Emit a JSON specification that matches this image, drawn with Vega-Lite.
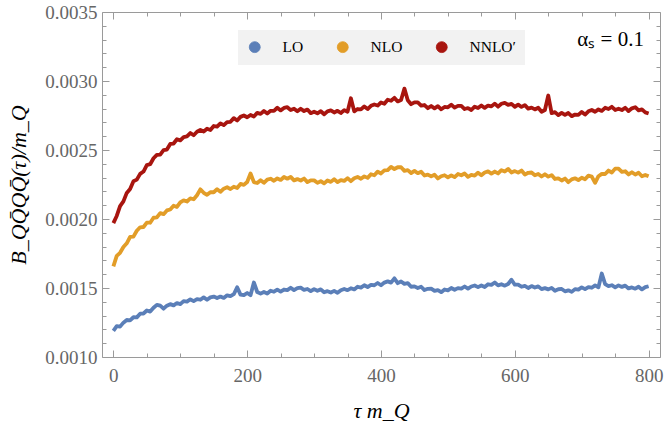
{
  "$schema": "https://vega.github.io/schema/vega-lite/v6.json",
  "width": 558,
  "height": 345,
  "autosize": {"type": "none"},
  "padding": {"left": 102, "top": 12, "right": 4, "bottom": 74},
  "background": "white",
  "config": {
    "font": "Liberation Serif",
    "view": {"stroke": null},
    "axis": {
      "grid": false,
      "domainColor": "#9a9a9a",
      "tickColor": "#9a9a9a",
      "labelColor": "#666666",
      "labelFont": "Liberation Serif",
      "labelFontSize": 19,
      "titleFont": "Liberation Serif",
      "titleFontSize": 22,
      "titleFontStyle": "italic",
      "titleFontWeight": "normal",
      "titleColor": "#000000"
    }
  },
  "data": {
    "values": [
      {"tau": 0, "order": "LO", "B": 0.001190}, {"tau": 5, "order": "LO", "B": 0.001224}, {"tau": 10, "order": "LO", "B": 0.001220}, {"tau": 15, "order": "LO", "B": 0.001249}, {"tau": 20, "order": "LO", "B": 0.001268}, {"tau": 25, "order": "LO", "B": 0.001266}, {"tau": 30, "order": "LO", "B": 0.001288}, {"tau": 35, "order": "LO", "B": 0.001287}, {"tau": 40, "order": "LO", "B": 0.001314}, {"tau": 45, "order": "LO", "B": 0.001315},
      {"tau": 50, "order": "LO", "B": 0.001337}, {"tau": 55, "order": "LO", "B": 0.001329}, {"tau": 60, "order": "LO", "B": 0.001357}, {"tau": 65, "order": "LO", "B": 0.001378}, {"tau": 70, "order": "LO", "B": 0.001372}, {"tau": 75, "order": "LO", "B": 0.001350}, {"tau": 80, "order": "LO", "B": 0.001372}, {"tau": 85, "order": "LO", "B": 0.001383}, {"tau": 90, "order": "LO", "B": 0.001374}, {"tau": 95, "order": "LO", "B": 0.001391},
      {"tau": 100, "order": "LO", "B": 0.001383}, {"tau": 105, "order": "LO", "B": 0.001405}, {"tau": 110, "order": "LO", "B": 0.001401}, {"tau": 115, "order": "LO", "B": 0.001418}, {"tau": 120, "order": "LO", "B": 0.001405}, {"tau": 125, "order": "LO", "B": 0.001419}, {"tau": 130, "order": "LO", "B": 0.001415}, {"tau": 135, "order": "LO", "B": 0.001432}, {"tau": 140, "order": "LO", "B": 0.001415}, {"tau": 145, "order": "LO", "B": 0.001432},
      {"tau": 150, "order": "LO", "B": 0.001438}, {"tau": 155, "order": "LO", "B": 0.001427}, {"tau": 160, "order": "LO", "B": 0.001438}, {"tau": 165, "order": "LO", "B": 0.001428}, {"tau": 170, "order": "LO", "B": 0.001447}, {"tau": 175, "order": "LO", "B": 0.001441}, {"tau": 180, "order": "LO", "B": 0.001455}, {"tau": 185, "order": "LO", "B": 0.001505}, {"tau": 190, "order": "LO", "B": 0.001452}, {"tau": 195, "order": "LO", "B": 0.001448},
      {"tau": 200, "order": "LO", "B": 0.001464}, {"tau": 205, "order": "LO", "B": 0.001448}, {"tau": 210, "order": "LO", "B": 0.001540}, {"tau": 215, "order": "LO", "B": 0.001471}, {"tau": 220, "order": "LO", "B": 0.001459}, {"tau": 225, "order": "LO", "B": 0.001471}, {"tau": 230, "order": "LO", "B": 0.001460}, {"tau": 235, "order": "LO", "B": 0.001480}, {"tau": 240, "order": "LO", "B": 0.001473}, {"tau": 245, "order": "LO", "B": 0.001488},
      {"tau": 250, "order": "LO", "B": 0.001474}, {"tau": 255, "order": "LO", "B": 0.001489}, {"tau": 260, "order": "LO", "B": 0.001485}, {"tau": 265, "order": "LO", "B": 0.001502}, {"tau": 270, "order": "LO", "B": 0.001485}, {"tau": 275, "order": "LO", "B": 0.001499}, {"tau": 280, "order": "LO", "B": 0.001503}, {"tau": 285, "order": "LO", "B": 0.001486}, {"tau": 290, "order": "LO", "B": 0.001493}, {"tau": 295, "order": "LO", "B": 0.001477},
      {"tau": 300, "order": "LO", "B": 0.001492}, {"tau": 305, "order": "LO", "B": 0.001480}, {"tau": 310, "order": "LO", "B": 0.001490}, {"tau": 315, "order": "LO", "B": 0.001469}, {"tau": 320, "order": "LO", "B": 0.001477}, {"tau": 325, "order": "LO", "B": 0.001467}, {"tau": 330, "order": "LO", "B": 0.001479}, {"tau": 335, "order": "LO", "B": 0.001465}, {"tau": 340, "order": "LO", "B": 0.001484}, {"tau": 345, "order": "LO", "B": 0.001493},
      {"tau": 350, "order": "LO", "B": 0.001484}, {"tau": 355, "order": "LO", "B": 0.001498}, {"tau": 360, "order": "LO", "B": 0.001490}, {"tau": 365, "order": "LO", "B": 0.001509}, {"tau": 370, "order": "LO", "B": 0.001503}, {"tau": 375, "order": "LO", "B": 0.001520}, {"tau": 380, "order": "LO", "B": 0.001507}, {"tau": 385, "order": "LO", "B": 0.001522}, {"tau": 390, "order": "LO", "B": 0.001520}, {"tau": 395, "order": "LO", "B": 0.001536},
      {"tau": 400, "order": "LO", "B": 0.001520}, {"tau": 405, "order": "LO", "B": 0.001539}, {"tau": 410, "order": "LO", "B": 0.001548}, {"tau": 415, "order": "LO", "B": 0.001539}, {"tau": 420, "order": "LO", "B": 0.001570}, {"tau": 425, "order": "LO", "B": 0.001535}, {"tau": 430, "order": "LO", "B": 0.001547}, {"tau": 435, "order": "LO", "B": 0.001530}, {"tau": 440, "order": "LO", "B": 0.001535}, {"tau": 445, "order": "LO", "B": 0.001509},
      {"tau": 450, "order": "LO", "B": 0.001512}, {"tau": 455, "order": "LO", "B": 0.001500}, {"tau": 460, "order": "LO", "B": 0.001509}, {"tau": 465, "order": "LO", "B": 0.001485}, {"tau": 470, "order": "LO", "B": 0.001494}, {"tau": 475, "order": "LO", "B": 0.001495}, {"tau": 480, "order": "LO", "B": 0.001479}, {"tau": 485, "order": "LO", "B": 0.001485}, {"tau": 490, "order": "LO", "B": 0.001470}, {"tau": 495, "order": "LO", "B": 0.001489},
      {"tau": 500, "order": "LO", "B": 0.001483}, {"tau": 505, "order": "LO", "B": 0.001500}, {"tau": 510, "order": "LO", "B": 0.001487}, {"tau": 515, "order": "LO", "B": 0.001499}, {"tau": 520, "order": "LO", "B": 0.001495}, {"tau": 525, "order": "LO", "B": 0.001511}, {"tau": 530, "order": "LO", "B": 0.001495}, {"tau": 535, "order": "LO", "B": 0.001511}, {"tau": 540, "order": "LO", "B": 0.001518}, {"tau": 545, "order": "LO", "B": 0.001506},
      {"tau": 550, "order": "LO", "B": 0.001518}, {"tau": 555, "order": "LO", "B": 0.001507}, {"tau": 560, "order": "LO", "B": 0.001527}, {"tau": 565, "order": "LO", "B": 0.001523}, {"tau": 570, "order": "LO", "B": 0.001540}, {"tau": 575, "order": "LO", "B": 0.001519}, {"tau": 580, "order": "LO", "B": 0.001527}, {"tau": 585, "order": "LO", "B": 0.001517}, {"tau": 590, "order": "LO", "B": 0.001529}, {"tau": 595, "order": "LO", "B": 0.001560},
      {"tau": 600, "order": "LO", "B": 0.001524}, {"tau": 605, "order": "LO", "B": 0.001525}, {"tau": 610, "order": "LO", "B": 0.001509}, {"tau": 615, "order": "LO", "B": 0.001515}, {"tau": 620, "order": "LO", "B": 0.001500}, {"tau": 625, "order": "LO", "B": 0.001514}, {"tau": 630, "order": "LO", "B": 0.001503}, {"tau": 635, "order": "LO", "B": 0.001512}, {"tau": 640, "order": "LO", "B": 0.001492}, {"tau": 645, "order": "LO", "B": 0.001499},
      {"tau": 650, "order": "LO", "B": 0.001490}, {"tau": 655, "order": "LO", "B": 0.001501}, {"tau": 660, "order": "LO", "B": 0.001480}, {"tau": 665, "order": "LO", "B": 0.001491}, {"tau": 670, "order": "LO", "B": 0.001493}, {"tau": 675, "order": "LO", "B": 0.001476}, {"tau": 680, "order": "LO", "B": 0.001483}, {"tau": 685, "order": "LO", "B": 0.001472}, {"tau": 690, "order": "LO", "B": 0.001492}, {"tau": 695, "order": "LO", "B": 0.001488},
      {"tau": 700, "order": "LO", "B": 0.001505}, {"tau": 705, "order": "LO", "B": 0.001492}, {"tau": 710, "order": "LO", "B": 0.001507}, {"tau": 715, "order": "LO", "B": 0.001502}, {"tau": 720, "order": "LO", "B": 0.001519}, {"tau": 725, "order": "LO", "B": 0.001505}, {"tau": 730, "order": "LO", "B": 0.001605}, {"tau": 735, "order": "LO", "B": 0.001528}, {"tau": 740, "order": "LO", "B": 0.001514}, {"tau": 745, "order": "LO", "B": 0.001520},
      {"tau": 750, "order": "LO", "B": 0.001505}, {"tau": 755, "order": "LO", "B": 0.001519}, {"tau": 760, "order": "LO", "B": 0.001508}, {"tau": 765, "order": "LO", "B": 0.001517}, {"tau": 770, "order": "LO", "B": 0.001497}, {"tau": 775, "order": "LO", "B": 0.001504}, {"tau": 780, "order": "LO", "B": 0.001495}, {"tau": 785, "order": "LO", "B": 0.001509}, {"tau": 790, "order": "LO", "B": 0.001490}, {"tau": 795, "order": "LO", "B": 0.001506},
      {"tau": 800, "order": "LO", "B": 0.001513},

      {"tau": 0, "order": "NLO", "B": 0.001657}, {"tau": 5, "order": "NLO", "B": 0.001733}, {"tau": 10, "order": "NLO", "B": 0.001755}, {"tau": 15, "order": "NLO", "B": 0.001797}, {"tau": 20, "order": "NLO", "B": 0.001824}, {"tau": 25, "order": "NLO", "B": 0.001871}, {"tau": 30, "order": "NLO", "B": 0.001872}, {"tau": 35, "order": "NLO", "B": 0.001915}, {"tau": 40, "order": "NLO", "B": 0.001940}, {"tau": 45, "order": "NLO", "B": 0.001942},
      {"tau": 50, "order": "NLO", "B": 0.001974}, {"tau": 55, "order": "NLO", "B": 0.001973}, {"tau": 60, "order": "NLO", "B": 0.002009}, {"tau": 65, "order": "NLO", "B": 0.002012}, {"tau": 70, "order": "NLO", "B": 0.002043}, {"tau": 75, "order": "NLO", "B": 0.002035}, {"tau": 80, "order": "NLO", "B": 0.002062}, {"tau": 85, "order": "NLO", "B": 0.002069}, {"tau": 90, "order": "NLO", "B": 0.002096}, {"tau": 95, "order": "NLO", "B": 0.002087},
      {"tau": 100, "order": "NLO", "B": 0.002120}, {"tau": 105, "order": "NLO", "B": 0.002135}, {"tau": 110, "order": "NLO", "B": 0.002127}, {"tau": 115, "order": "NLO", "B": 0.002149}, {"tau": 120, "order": "NLO", "B": 0.002143}, {"tau": 125, "order": "NLO", "B": 0.002172}, {"tau": 130, "order": "NLO", "B": 0.002215}, {"tau": 135, "order": "NLO", "B": 0.002190}, {"tau": 140, "order": "NLO", "B": 0.002175}, {"tau": 145, "order": "NLO", "B": 0.002194},
      {"tau": 150, "order": "NLO", "B": 0.002194}, {"tau": 155, "order": "NLO", "B": 0.002216}, {"tau": 160, "order": "NLO", "B": 0.002197}, {"tau": 165, "order": "NLO", "B": 0.002220}, {"tau": 170, "order": "NLO", "B": 0.002230}, {"tau": 175, "order": "NLO", "B": 0.002217}, {"tau": 180, "order": "NLO", "B": 0.002234}, {"tau": 185, "order": "NLO", "B": 0.002225}, {"tau": 190, "order": "NLO", "B": 0.002254}, {"tau": 195, "order": "NLO", "B": 0.002247},
      {"tau": 200, "order": "NLO", "B": 0.002268}, {"tau": 205, "order": "NLO", "B": 0.002330}, {"tau": 210, "order": "NLO", "B": 0.002267}, {"tau": 215, "order": "NLO", "B": 0.002261}, {"tau": 220, "order": "NLO", "B": 0.002281}, {"tau": 225, "order": "NLO", "B": 0.002262}, {"tau": 230, "order": "NLO", "B": 0.002285}, {"tau": 235, "order": "NLO", "B": 0.002292}, {"tau": 240, "order": "NLO", "B": 0.002277}, {"tau": 245, "order": "NLO", "B": 0.002294},
      {"tau": 250, "order": "NLO", "B": 0.002283}, {"tau": 255, "order": "NLO", "B": 0.002304}, {"tau": 260, "order": "NLO", "B": 0.002292}, {"tau": 265, "order": "NLO", "B": 0.002305}, {"tau": 270, "order": "NLO", "B": 0.002280}, {"tau": 275, "order": "NLO", "B": 0.002289}, {"tau": 280, "order": "NLO", "B": 0.002279}, {"tau": 285, "order": "NLO", "B": 0.002293}, {"tau": 290, "order": "NLO", "B": 0.002267}, {"tau": 295, "order": "NLO", "B": 0.002280},
      {"tau": 300, "order": "NLO", "B": 0.002280}, {"tau": 305, "order": "NLO", "B": 0.002262}, {"tau": 310, "order": "NLO", "B": 0.002274}, {"tau": 315, "order": "NLO", "B": 0.002258}, {"tau": 320, "order": "NLO", "B": 0.002279}, {"tau": 325, "order": "NLO", "B": 0.002269}, {"tau": 330, "order": "NLO", "B": 0.002288}, {"tau": 335, "order": "NLO", "B": 0.002267}, {"tau": 340, "order": "NLO", "B": 0.002282}, {"tau": 345, "order": "NLO", "B": 0.002276},
      {"tau": 350, "order": "NLO", "B": 0.002296}, {"tau": 355, "order": "NLO", "B": 0.002274}, {"tau": 360, "order": "NLO", "B": 0.002295}, {"tau": 365, "order": "NLO", "B": 0.002305}, {"tau": 370, "order": "NLO", "B": 0.002292}, {"tau": 375, "order": "NLO", "B": 0.002309}, {"tau": 380, "order": "NLO", "B": 0.002298}, {"tau": 385, "order": "NLO", "B": 0.002324}, {"tau": 390, "order": "NLO", "B": 0.002317}, {"tau": 395, "order": "NLO", "B": 0.002343},
      {"tau": 400, "order": "NLO", "B": 0.002330}, {"tau": 405, "order": "NLO", "B": 0.002352}, {"tau": 410, "order": "NLO", "B": 0.002354}, {"tau": 415, "order": "NLO", "B": 0.002378}, {"tau": 420, "order": "NLO", "B": 0.002362}, {"tau": 425, "order": "NLO", "B": 0.002375}, {"tau": 430, "order": "NLO", "B": 0.002375}, {"tau": 435, "order": "NLO", "B": 0.002349}, {"tau": 440, "order": "NLO", "B": 0.002354}, {"tau": 445, "order": "NLO", "B": 0.002333},
      {"tau": 450, "order": "NLO", "B": 0.002349}, {"tau": 455, "order": "NLO", "B": 0.002332}, {"tau": 460, "order": "NLO", "B": 0.002343}, {"tau": 465, "order": "NLO", "B": 0.002315}, {"tau": 470, "order": "NLO", "B": 0.002322}, {"tau": 475, "order": "NLO", "B": 0.002309}, {"tau": 480, "order": "NLO", "B": 0.002321}, {"tau": 485, "order": "NLO", "B": 0.002294}, {"tau": 490, "order": "NLO", "B": 0.002310}, {"tau": 495, "order": "NLO", "B": 0.002317},
      {"tau": 500, "order": "NLO", "B": 0.002302}, {"tau": 505, "order": "NLO", "B": 0.002316}, {"tau": 510, "order": "NLO", "B": 0.002303}, {"tau": 515, "order": "NLO", "B": 0.002326}, {"tau": 520, "order": "NLO", "B": 0.002317}, {"tau": 525, "order": "NLO", "B": 0.002330}, {"tau": 530, "order": "NLO", "B": 0.002305}, {"tau": 535, "order": "NLO", "B": 0.002319}, {"tau": 540, "order": "NLO", "B": 0.002314}, {"tau": 545, "order": "NLO", "B": 0.002336},
      {"tau": 550, "order": "NLO", "B": 0.002317}, {"tau": 555, "order": "NLO", "B": 0.002337}, {"tau": 560, "order": "NLO", "B": 0.002345}, {"tau": 565, "order": "NLO", "B": 0.002329}, {"tau": 570, "order": "NLO", "B": 0.002344}, {"tau": 575, "order": "NLO", "B": 0.002330}, {"tau": 580, "order": "NLO", "B": 0.002354}, {"tau": 585, "order": "NLO", "B": 0.002344}, {"tau": 590, "order": "NLO", "B": 0.002363}, {"tau": 595, "order": "NLO", "B": 0.002337},
      {"tau": 600, "order": "NLO", "B": 0.002347}, {"tau": 605, "order": "NLO", "B": 0.002336}, {"tau": 610, "order": "NLO", "B": 0.002351}, {"tau": 615, "order": "NLO", "B": 0.002322}, {"tau": 620, "order": "NLO", "B": 0.002335}, {"tau": 625, "order": "NLO", "B": 0.002337}, {"tau": 630, "order": "NLO", "B": 0.002317}, {"tau": 635, "order": "NLO", "B": 0.002326}, {"tau": 640, "order": "NLO", "B": 0.002308}, {"tau": 645, "order": "NLO", "B": 0.002324},
      {"tau": 650, "order": "NLO", "B": 0.002307}, {"tau": 655, "order": "NLO", "B": 0.002318}, {"tau": 660, "order": "NLO", "B": 0.002290}, {"tau": 665, "order": "NLO", "B": 0.002294}, {"tau": 670, "order": "NLO", "B": 0.002279}, {"tau": 675, "order": "NLO", "B": 0.002293}, {"tau": 680, "order": "NLO", "B": 0.002267}, {"tau": 685, "order": "NLO", "B": 0.002287}, {"tau": 690, "order": "NLO", "B": 0.002295}, {"tau": 695, "order": "NLO", "B": 0.002282},
      {"tau": 700, "order": "NLO", "B": 0.002299}, {"tau": 705, "order": "NLO", "B": 0.002288}, {"tau": 710, "order": "NLO", "B": 0.002314}, {"tau": 715, "order": "NLO", "B": 0.002307}, {"tau": 720, "order": "NLO", "B": 0.002262}, {"tau": 725, "order": "NLO", "B": 0.002310}, {"tau": 730, "order": "NLO", "B": 0.002327}, {"tau": 735, "order": "NLO", "B": 0.002326}, {"tau": 740, "order": "NLO", "B": 0.002351}, {"tau": 745, "order": "NLO", "B": 0.002337},
      {"tau": 750, "order": "NLO", "B": 0.002365}, {"tau": 755, "order": "NLO", "B": 0.002365}, {"tau": 760, "order": "NLO", "B": 0.002342}, {"tau": 765, "order": "NLO", "B": 0.002346}, {"tau": 770, "order": "NLO", "B": 0.002323}, {"tau": 775, "order": "NLO", "B": 0.002339}, {"tau": 780, "order": "NLO", "B": 0.002322}, {"tau": 785, "order": "NLO", "B": 0.002335}, {"tau": 790, "order": "NLO", "B": 0.002310}, {"tau": 795, "order": "NLO", "B": 0.002319},
      {"tau": 800, "order": "NLO", "B": 0.002309},

      {"tau": 0, "order": "NNLO′", "B": 0.001970}, {"tau": 5, "order": "NNLO′", "B": 0.002022}, {"tau": 10, "order": "NNLO′", "B": 0.002094}, {"tau": 15, "order": "NNLO′", "B": 0.002128}, {"tau": 20, "order": "NNLO′", "B": 0.002189}, {"tau": 25, "order": "NNLO′", "B": 0.002217}, {"tau": 30, "order": "NNLO′", "B": 0.002273}, {"tau": 35, "order": "NNLO′", "B": 0.002285}, {"tau": 40, "order": "NNLO′", "B": 0.002327}, {"tau": 45, "order": "NNLO′", "B": 0.002344},
      {"tau": 50, "order": "NNLO′", "B": 0.002391}, {"tau": 55, "order": "NNLO′", "B": 0.002397}, {"tau": 60, "order": "NNLO′", "B": 0.002440}, {"tau": 65, "order": "NNLO′", "B": 0.002465}, {"tau": 70, "order": "NNLO′", "B": 0.002467}, {"tau": 75, "order": "NNLO′", "B": 0.002499}, {"tau": 80, "order": "NNLO′", "B": 0.002503}, {"tau": 85, "order": "NNLO′", "B": 0.002544}, {"tau": 90, "order": "NNLO′", "B": 0.002547}, {"tau": 95, "order": "NNLO′", "B": 0.002578},
      {"tau": 100, "order": "NNLO′", "B": 0.002570}, {"tau": 105, "order": "NNLO′", "B": 0.002594}, {"tau": 110, "order": "NNLO′", "B": 0.002599}, {"tau": 115, "order": "NNLO′", "B": 0.002623}, {"tau": 120, "order": "NNLO′", "B": 0.002607}, {"tau": 125, "order": "NNLO′", "B": 0.002632}, {"tau": 130, "order": "NNLO′", "B": 0.002645}, {"tau": 135, "order": "NNLO′", "B": 0.002634}, {"tau": 140, "order": "NNLO′", "B": 0.002654}, {"tau": 145, "order": "NNLO′", "B": 0.002645},
      {"tau": 150, "order": "NNLO′", "B": 0.002674}, {"tau": 155, "order": "NNLO′", "B": 0.002669}, {"tau": 160, "order": "NNLO′", "B": 0.002693}, {"tau": 165, "order": "NNLO′", "B": 0.002680}, {"tau": 170, "order": "NNLO′", "B": 0.002702}, {"tau": 175, "order": "NNLO′", "B": 0.002704}, {"tau": 180, "order": "NNLO′", "B": 0.002731}, {"tau": 185, "order": "NNLO′", "B": 0.002714}, {"tau": 190, "order": "NNLO′", "B": 0.002740}, {"tau": 195, "order": "NNLO′", "B": 0.002750},
      {"tau": 200, "order": "NNLO′", "B": 0.002737}, {"tau": 205, "order": "NNLO′", "B": 0.002754}, {"tau": 210, "order": "NNLO′", "B": 0.002743}, {"tau": 215, "order": "NNLO′", "B": 0.002769}, {"tau": 220, "order": "NNLO′", "B": 0.002762}, {"tau": 225, "order": "NNLO′", "B": 0.002783}, {"tau": 230, "order": "NNLO′", "B": 0.002765}, {"tau": 235, "order": "NNLO′", "B": 0.002784}, {"tau": 240, "order": "NNLO′", "B": 0.002784}, {"tau": 245, "order": "NNLO′", "B": 0.002806},
      {"tau": 250, "order": "NNLO′", "B": 0.002787}, {"tau": 255, "order": "NNLO′", "B": 0.002805}, {"tau": 260, "order": "NNLO′", "B": 0.002810}, {"tau": 265, "order": "NNLO′", "B": 0.002789}, {"tau": 270, "order": "NNLO′", "B": 0.002799}, {"tau": 275, "order": "NNLO′", "B": 0.002780}, {"tau": 280, "order": "NNLO′", "B": 0.002799}, {"tau": 285, "order": "NNLO′", "B": 0.002782}, {"tau": 290, "order": "NNLO′", "B": 0.002793}, {"tau": 295, "order": "NNLO′", "B": 0.002767},
      {"tau": 300, "order": "NNLO′", "B": 0.002777}, {"tau": 305, "order": "NNLO′", "B": 0.002766}, {"tau": 310, "order": "NNLO′", "B": 0.002781}, {"tau": 315, "order": "NNLO′", "B": 0.002759}, {"tau": 320, "order": "NNLO′", "B": 0.002780}, {"tau": 325, "order": "NNLO′", "B": 0.002787}, {"tau": 330, "order": "NNLO′", "B": 0.002772}, {"tau": 335, "order": "NNLO′", "B": 0.002784}, {"tau": 340, "order": "NNLO′", "B": 0.002768}, {"tau": 345, "order": "NNLO′", "B": 0.002789},
      {"tau": 350, "order": "NNLO′", "B": 0.002777}, {"tau": 355, "order": "NNLO′", "B": 0.002875}, {"tau": 360, "order": "NNLO′", "B": 0.002780}, {"tau": 365, "order": "NNLO′", "B": 0.002797}, {"tau": 370, "order": "NNLO′", "B": 0.002794}, {"tau": 375, "order": "NNLO′", "B": 0.002816}, {"tau": 380, "order": "NNLO′", "B": 0.002797}, {"tau": 385, "order": "NNLO′", "B": 0.002820}, {"tau": 390, "order": "NNLO′", "B": 0.002830}, {"tau": 395, "order": "NNLO′", "B": 0.002822},
      {"tau": 400, "order": "NNLO′", "B": 0.002844}, {"tau": 405, "order": "NNLO′", "B": 0.002835}, {"tau": 410, "order": "NNLO′", "B": 0.002864}, {"tau": 415, "order": "NNLO′", "B": 0.002857}, {"tau": 420, "order": "NNLO′", "B": 0.002878}, {"tau": 425, "order": "NNLO′", "B": 0.002852}, {"tau": 430, "order": "NNLO′", "B": 0.002862}, {"tau": 435, "order": "NNLO′", "B": 0.002945}, {"tau": 440, "order": "NNLO′", "B": 0.002861}, {"tau": 445, "order": "NNLO′", "B": 0.002832},
      {"tau": 450, "order": "NNLO′", "B": 0.002845}, {"tau": 455, "order": "NNLO′", "B": 0.002845}, {"tau": 460, "order": "NNLO′", "B": 0.002822}, {"tau": 465, "order": "NNLO′", "B": 0.002826}, {"tau": 470, "order": "NNLO′", "B": 0.002803}, {"tau": 475, "order": "NNLO′", "B": 0.002819}, {"tau": 480, "order": "NNLO′", "B": 0.002802}, {"tau": 485, "order": "NNLO′", "B": 0.002818}, {"tau": 490, "order": "NNLO′", "B": 0.002795}, {"tau": 495, "order": "NNLO′", "B": 0.002812},
      {"tau": 500, "order": "NNLO′", "B": 0.002809}, {"tau": 505, "order": "NNLO′", "B": 0.002828}, {"tau": 510, "order": "NNLO′", "B": 0.002807}, {"tau": 515, "order": "NNLO′", "B": 0.002820}, {"tau": 520, "order": "NNLO′", "B": 0.002820}, {"tau": 525, "order": "NNLO′", "B": 0.002797}, {"tau": 530, "order": "NNLO′", "B": 0.002804}, {"tau": 535, "order": "NNLO′", "B": 0.002790}, {"tau": 540, "order": "NNLO′", "B": 0.002814}, {"tau": 545, "order": "NNLO′", "B": 0.002804},
      {"tau": 550, "order": "NNLO′", "B": 0.002823}, {"tau": 555, "order": "NNLO′", "B": 0.002805}, {"tau": 560, "order": "NNLO′", "B": 0.002822}, {"tau": 565, "order": "NNLO′", "B": 0.002816}, {"tau": 570, "order": "NNLO′", "B": 0.002836}, {"tau": 575, "order": "NNLO′", "B": 0.002814}, {"tau": 580, "order": "NNLO′", "B": 0.002835}, {"tau": 585, "order": "NNLO′", "B": 0.002842}, {"tau": 590, "order": "NNLO′", "B": 0.002827}, {"tau": 595, "order": "NNLO′", "B": 0.002834},
      {"tau": 600, "order": "NNLO′", "B": 0.002813}, {"tau": 605, "order": "NNLO′", "B": 0.002829}, {"tau": 610, "order": "NNLO′", "B": 0.002812}, {"tau": 615, "order": "NNLO′", "B": 0.002825}, {"tau": 620, "order": "NNLO′", "B": 0.002800}, {"tau": 625, "order": "NNLO′", "B": 0.002807}, {"tau": 630, "order": "NNLO′", "B": 0.002794}, {"tau": 635, "order": "NNLO′", "B": 0.002806}, {"tau": 640, "order": "NNLO′", "B": 0.002777}, {"tau": 645, "order": "NNLO′", "B": 0.002790},
      {"tau": 650, "order": "NNLO′", "B": 0.002895}, {"tau": 655, "order": "NNLO′", "B": 0.002767}, {"tau": 660, "order": "NNLO′", "B": 0.002774}, {"tau": 665, "order": "NNLO′", "B": 0.002753}, {"tau": 670, "order": "NNLO′", "B": 0.002769}, {"tau": 675, "order": "NNLO′", "B": 0.002754}, {"tau": 680, "order": "NNLO′", "B": 0.002768}, {"tau": 685, "order": "NNLO′", "B": 0.002745}, {"tau": 690, "order": "NNLO′", "B": 0.002757}, {"tau": 695, "order": "NNLO′", "B": 0.002754},
      {"tau": 700, "order": "NNLO′", "B": 0.002776}, {"tau": 705, "order": "NNLO′", "B": 0.002757}, {"tau": 710, "order": "NNLO′", "B": 0.002780}, {"tau": 715, "order": "NNLO′", "B": 0.002790}, {"tau": 720, "order": "NNLO′", "B": 0.002777}, {"tau": 725, "order": "NNLO′", "B": 0.002794}, {"tau": 730, "order": "NNLO′", "B": 0.002783}, {"tau": 735, "order": "NNLO′", "B": 0.002806}, {"tau": 740, "order": "NNLO′", "B": 0.002797}, {"tau": 745, "order": "NNLO′", "B": 0.002813},
      {"tau": 750, "order": "NNLO′", "B": 0.002790}, {"tau": 755, "order": "NNLO′", "B": 0.002799}, {"tau": 760, "order": "NNLO′", "B": 0.002789}, {"tau": 765, "order": "NNLO′", "B": 0.002806}, {"tau": 770, "order": "NNLO′", "B": 0.002782}, {"tau": 775, "order": "NNLO′", "B": 0.002802}, {"tau": 780, "order": "NNLO′", "B": 0.002810}, {"tau": 785, "order": "NNLO′", "B": 0.002787}, {"tau": 790, "order": "NNLO′", "B": 0.002794}, {"tau": 795, "order": "NNLO′", "B": 0.002773},
      {"tau": 800, "order": "NNLO′", "B": 0.002765}
    ]
  },
  "layer": [
    {
      "mark": {"type": "line", "strokeWidth": 3.8, "strokeJoin": "round"},
      "encoding": {
        "x": {
          "field": "tau",
          "type": "quantitative",
          "scale": {"domain": [-17, 817], "nice": false, "zero": false},
          "axis": {
            "orient": "bottom",
            "values": [0, 200, 400, 600, 800],
            "tickSize": -7,
            "labelPadding": 16,
            "title": "τ m_Q",
            "titlePadding": 15
          }
        },
        "y": {
          "field": "B",
          "type": "quantitative",
          "scale": {"domain": [0.001, 0.0035], "nice": false, "zero": false},
          "axis": {
            "orient": "left",
            "values": [0.001, 0.0015, 0.002, 0.0025, 0.003, 0.0035],
            "format": ".4f",
            "tickSize": -7,
            "labelPadding": 12,
            "title": "B_QQ̄QQ̄(τ)/m_Q",
            "titlePadding": 14
          }
        },
        "color": {
          "field": "order",
          "type": "nominal",
          "scale": {
            "domain": ["LO", "NLO", "NNLO′"],
            "range": ["#5b7fb8", "#e29d28", "#a8150f"]
          },
          "legend": {
            "title": null,
            "orient": "none",
            "legendX": 136,
            "legendY": 18,
            "direction": "horizontal",
            "fillColor": "#f2f2f2",
            "padding": 9,
            "symbolType": "circle",
            "symbolSize": 120,
            "symbolStrokeWidth": 0.8,
            "labelFont": "Liberation Serif",
            "labelFontSize": 15.5,
            "labelColor": "#000000",
            "labelOffset": 20,
            "columnPadding": 31,
            "encode": {
              "symbols": {
                "update": {
                  "fill": {"scale": "color", "field": "value"},
                  "fillOpacity": {"value": 1}
                }
              }
            }
          }
        }
      }
    },
    {
      "data": {"values": [{"label": "αₛ = 0.1"}]},
      "mark": {
        "type": "text",
        "align": "right",
        "baseline": "middle",
        "font": "Liberation Serif",
        "fontSize": 21,
        "color": "#000000"
      },
      "encoding": {
        "x": {
          "datum": 793,
          "type": "quantitative",
          "axis": {
            "orient": "bottom",
            "values": [50, 100, 150, 250, 300, 350, 450, 500, 550, 650, 700, 750],
            "tickSize": -4,
            "labels": false,
            "domain": false,
            "title": null
          }
        },
        "y": {
          "datum": 0.0033,
          "type": "quantitative",
          "axis": {
            "orient": "left",
            "values": [0.0011, 0.0012, 0.0013, 0.0014, 0.0016, 0.0017, 0.0018, 0.0019, 0.0021, 0.0022, 0.0023, 0.0024, 0.0026, 0.0027, 0.0028, 0.0029, 0.0031, 0.0032, 0.0033, 0.0034],
            "tickSize": -4,
            "labels": false,
            "domain": false,
            "title": null
          }
        },
        "text": {"field": "label"}
      }
    },
    {
      "data": {"values": [{"label": ""}]},
      "mark": {"type": "point", "opacity": 0},
      "encoding": {
        "x": {
          "datum": 793,
          "type": "quantitative",
          "axis": {
            "orient": "top",
            "values": [0, 200, 400, 600, 800],
            "tickSize": -7,
            "labels": false,
            "title": null
          }
        },
        "y": {
          "datum": 0.0033,
          "type": "quantitative",
          "axis": {
            "orient": "right",
            "values": [0.001, 0.0015, 0.002, 0.0025, 0.003, 0.0035],
            "tickSize": -7,
            "labels": false,
            "title": null
          }
        }
      }
    },
    {
      "data": {"values": [{"label": ""}]},
      "mark": {"type": "point", "opacity": 0},
      "encoding": {
        "x": {
          "datum": 793,
          "type": "quantitative",
          "axis": {
            "orient": "top",
            "values": [50, 100, 150, 250, 300, 350, 450, 500, 550, 650, 700, 750],
            "tickSize": -4,
            "labels": false,
            "domain": false,
            "title": null
          }
        },
        "y": {
          "datum": 0.0033,
          "type": "quantitative",
          "axis": {
            "orient": "right",
            "values": [0.0011, 0.0012, 0.0013, 0.0014, 0.0016, 0.0017, 0.0018, 0.0019, 0.0021, 0.0022, 0.0023, 0.0024, 0.0026, 0.0027, 0.0028, 0.0029, 0.0031, 0.0032, 0.0033, 0.0034],
            "tickSize": -4,
            "labels": false,
            "domain": false,
            "title": null
          }
        }
      }
    }
  ],
  "resolve": {"axis": {"x": "independent", "y": "independent"}}
}
